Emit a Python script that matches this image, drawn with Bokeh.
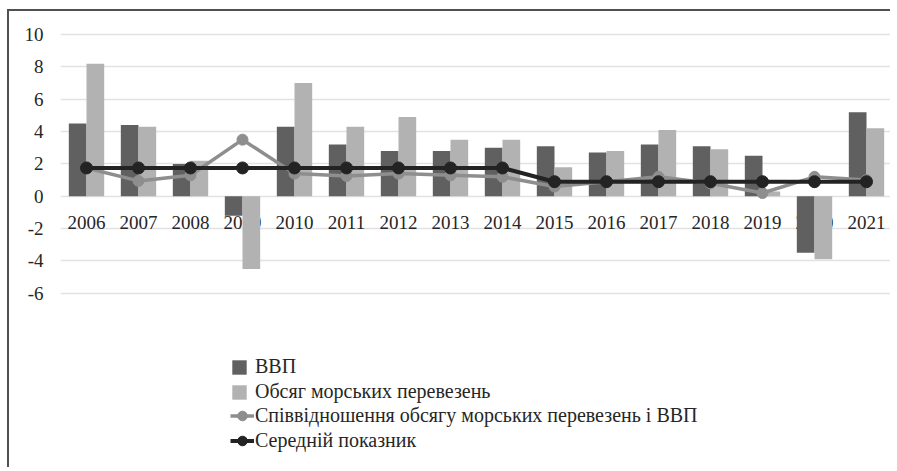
from bokeh.plotting import figure
from bokeh.models import ColumnDataSource, FixedTicker, Legend, LegendItem, Range1d, FactorRange
from bokeh.transform import dodge
from bokeh.core.properties import value
from bokeh.embed import file_html
from bokeh.resources import INLINE

years = ["2006", "2007", "2008", "2009", "2010", "2011", "2012", "2013",
         "2014", "2015", "2016", "2017", "2018", "2019", "2020", "2021"]
gdp = [4.5, 4.4, 2.0, -1.2, 4.3, 3.2, 2.8, 2.8, 3.0, 3.1, 2.7, 3.2, 3.1, 2.5, -3.5, 5.2]
shipping = [8.2, 4.3, 2.2, -4.5, 7.0, 4.3, 4.9, 3.5, 3.5, 1.8, 2.8, 4.1, 2.9, 0.3, -3.9, 4.2]
ratio = [1.75, 0.95, 1.3, 3.5, 1.4, 1.25, 1.4, 1.3, 1.2, 0.6, 0.9, 1.2, 0.8, 0.2, 1.2, 1.0]
mean = [1.75] * 9 + [0.9] * 7
y_ticks = [-6, -4, -2, 0, 2, 4, 6, 8, 10]
zeros = [0] * len(years)

labels = ["ВВП", "Обсяг морських перевезень",
          "Співвідношення обсягу морських перевезень і ВВП", "Середній показник"]

src = ColumnDataSource(dict(year=years, gdp=gdp, shipping=shipping, ratio=ratio,
                            mean=mean, zero=zeros))

FONT = "Liberation Serif"
TXT = "#262626"

p = figure(width=883, height=458, x_range=FactorRange(*years),
           y_range=Range1d(-16.9, 10.19), output_backend="svg",
           toolbar_location=None, min_border_left=51, min_border_right=0,
           min_border_top=20, min_border_bottom=0)
p.styles = {"border-top": "2px solid #505050", "border-left": "2px solid #505050",
            "margin-top": "9px", "margin-left": "7px"}
p.outline_line_color = None
p.background_fill_color = "white"

p.xaxis.visible = False
p.xgrid.visible = False
yax = p.yaxis[0]
yax.ticker = FixedTicker(ticks=y_ticks)
p.ygrid.ticker = FixedTicker(ticks=y_ticks)
p.ygrid.grid_line_color = "#e2e2e2"
p.ygrid.grid_line_width = 1.5
yax.axis_line_color = None
yax.major_tick_line_color = None
yax.minor_tick_line_color = None
yax.major_label_standoff = 11
yax.major_label_text_font = FONT
yax.major_label_text_font_size = "14.25pt"
yax.major_label_text_color = TXT
yax.major_label_overrides = {t: str(t) for t in y_ticks if t < 0}

# category labels at the zero line
p.text(x="year", y="zero", text="year", source=src, text_font=value(FONT),
       text_font_size="19px", text_color=TXT, text_align="center",
       text_baseline="middle", y_offset=26)

w = 0.34
r_gdp = p.vbar(x=dodge("year", -w / 2, range=p.x_range), top="gdp", width=w,
               source=src, fill_color="#606060", line_color=None)
r_ship = p.vbar(x=dodge("year", w / 2, range=p.x_range), top="shipping", width=w,
                source=src, fill_color="#b2b2b2", line_color=None)
r_ratio_l = p.line(x="year", y="ratio", source=src, line_color="#8e8e8e", line_width=3.5)
r_ratio_m = p.scatter(x="year", y="ratio", source=src, size=11, fill_color="#8e8e8e",
                      line_color="#8e8e8e")
r_mean_l = p.line(x="year", y="mean", source=src, line_color="#232323", line_width=4)
r_mean_m = p.scatter(x="year", y="mean", source=src, size=12, fill_color="#232323",
                     line_color="#232323")

common = dict(orientation="vertical", label_text_font=FONT, label_text_font_style="normal",
              label_text_color=TXT, padding=0, margin=0,
              border_line_color=None, background_fill_alpha=0)

legend1 = Legend(items=[
    LegendItem(label=labels[0], renderers=[r_gdp]),
    LegendItem(label=labels[1], renderers=[r_ship]),
], location=(170, 66), glyph_width=18, glyph_height=18, label_height=18,
    spacing=2, label_standoff=7, label_text_font_size="20px", **common)

legend2 = Legend(items=[
    LegendItem(label=labels[2], renderers=[r_ratio_l, r_ratio_m]),
    LegendItem(label=labels[3], renderers=[r_mean_l, r_mean_m]),
], location=(170, 16), glyph_width=24, glyph_height=25, label_height=18,
    spacing=0, label_standoff=1, label_text_font_size="15pt", **common)

p.add_layout(legend1, "center")
p.add_layout(legend2, "center")

open("out.html", "w").write(file_html(p, INLINE))
